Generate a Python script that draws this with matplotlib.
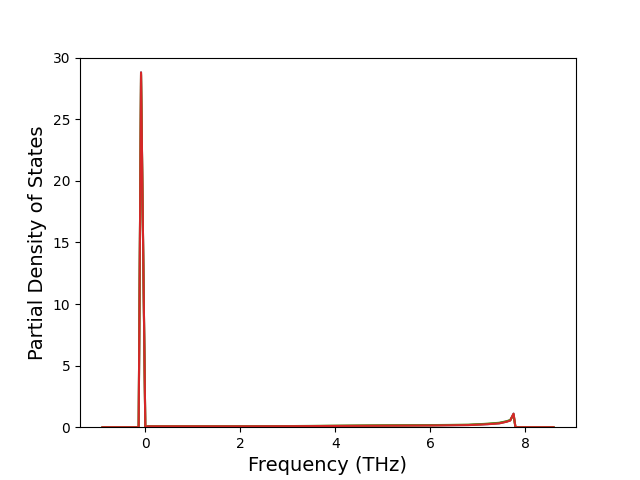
import matplotlib
matplotlib.use('Agg')
import matplotlib.pyplot as plt

# Frequencies (THz) at which the partial DOS changes slope
freq = [-0.90, -0.14, -0.09, 0.00, 0.05, 1.0, 2.0, 3.0, 4.0, 5.0, 6.0, 6.8,
        7.2, 7.45, 7.60, 7.68, 7.75, 7.79, 8.00, 8.59]

# Partial density of states, one list per atom
pdos_1 = [0.0, 0.0, 28.8, 0.0, 0.07, 0.07, 0.07, 0.08, 0.10, 0.13, 0.15, 0.18,
          0.25, 0.32, 0.45, 0.55, 1.10, 0.0, 0.0, 0.0]
pdos_2 = [0.0, 0.0, 28.7, 0.0, 0.07, 0.07, 0.07, 0.08, 0.11, 0.14, 0.16, 0.19,
          0.27, 0.34, 0.46, 0.56, 1.05, 0.0, 0.0, 0.0]
pdos_3 = [0.0, 0.0, 28.6, 0.0, 0.07, 0.07, 0.08, 0.09, 0.12, 0.15, 0.17, 0.20,
          0.28, 0.36, 0.48, 0.58, 1.00, 0.0, 0.0, 0.0]
pdos_4 = [0.0, 0.0, 28.8, 0.0, 0.07, 0.07, 0.07, 0.08, 0.10, 0.12, 0.14, 0.17,
          0.24, 0.31, 0.44, 0.54, 1.10, 0.0, 0.0, 0.0]

fig, ax = plt.subplots(figsize=(6.4, 4.8), dpi=100)
for pdos in [pdos_1, pdos_2, pdos_3, pdos_4]:
    ax.plot(freq, pdos, linewidth=1.5)

ax.set_ylim(0, 30)
ax.set_xlabel('Frequency (THz)', fontsize=14)
ax.set_ylabel('Partial Density of States', fontsize=14)

plt.savefig('out.png')
